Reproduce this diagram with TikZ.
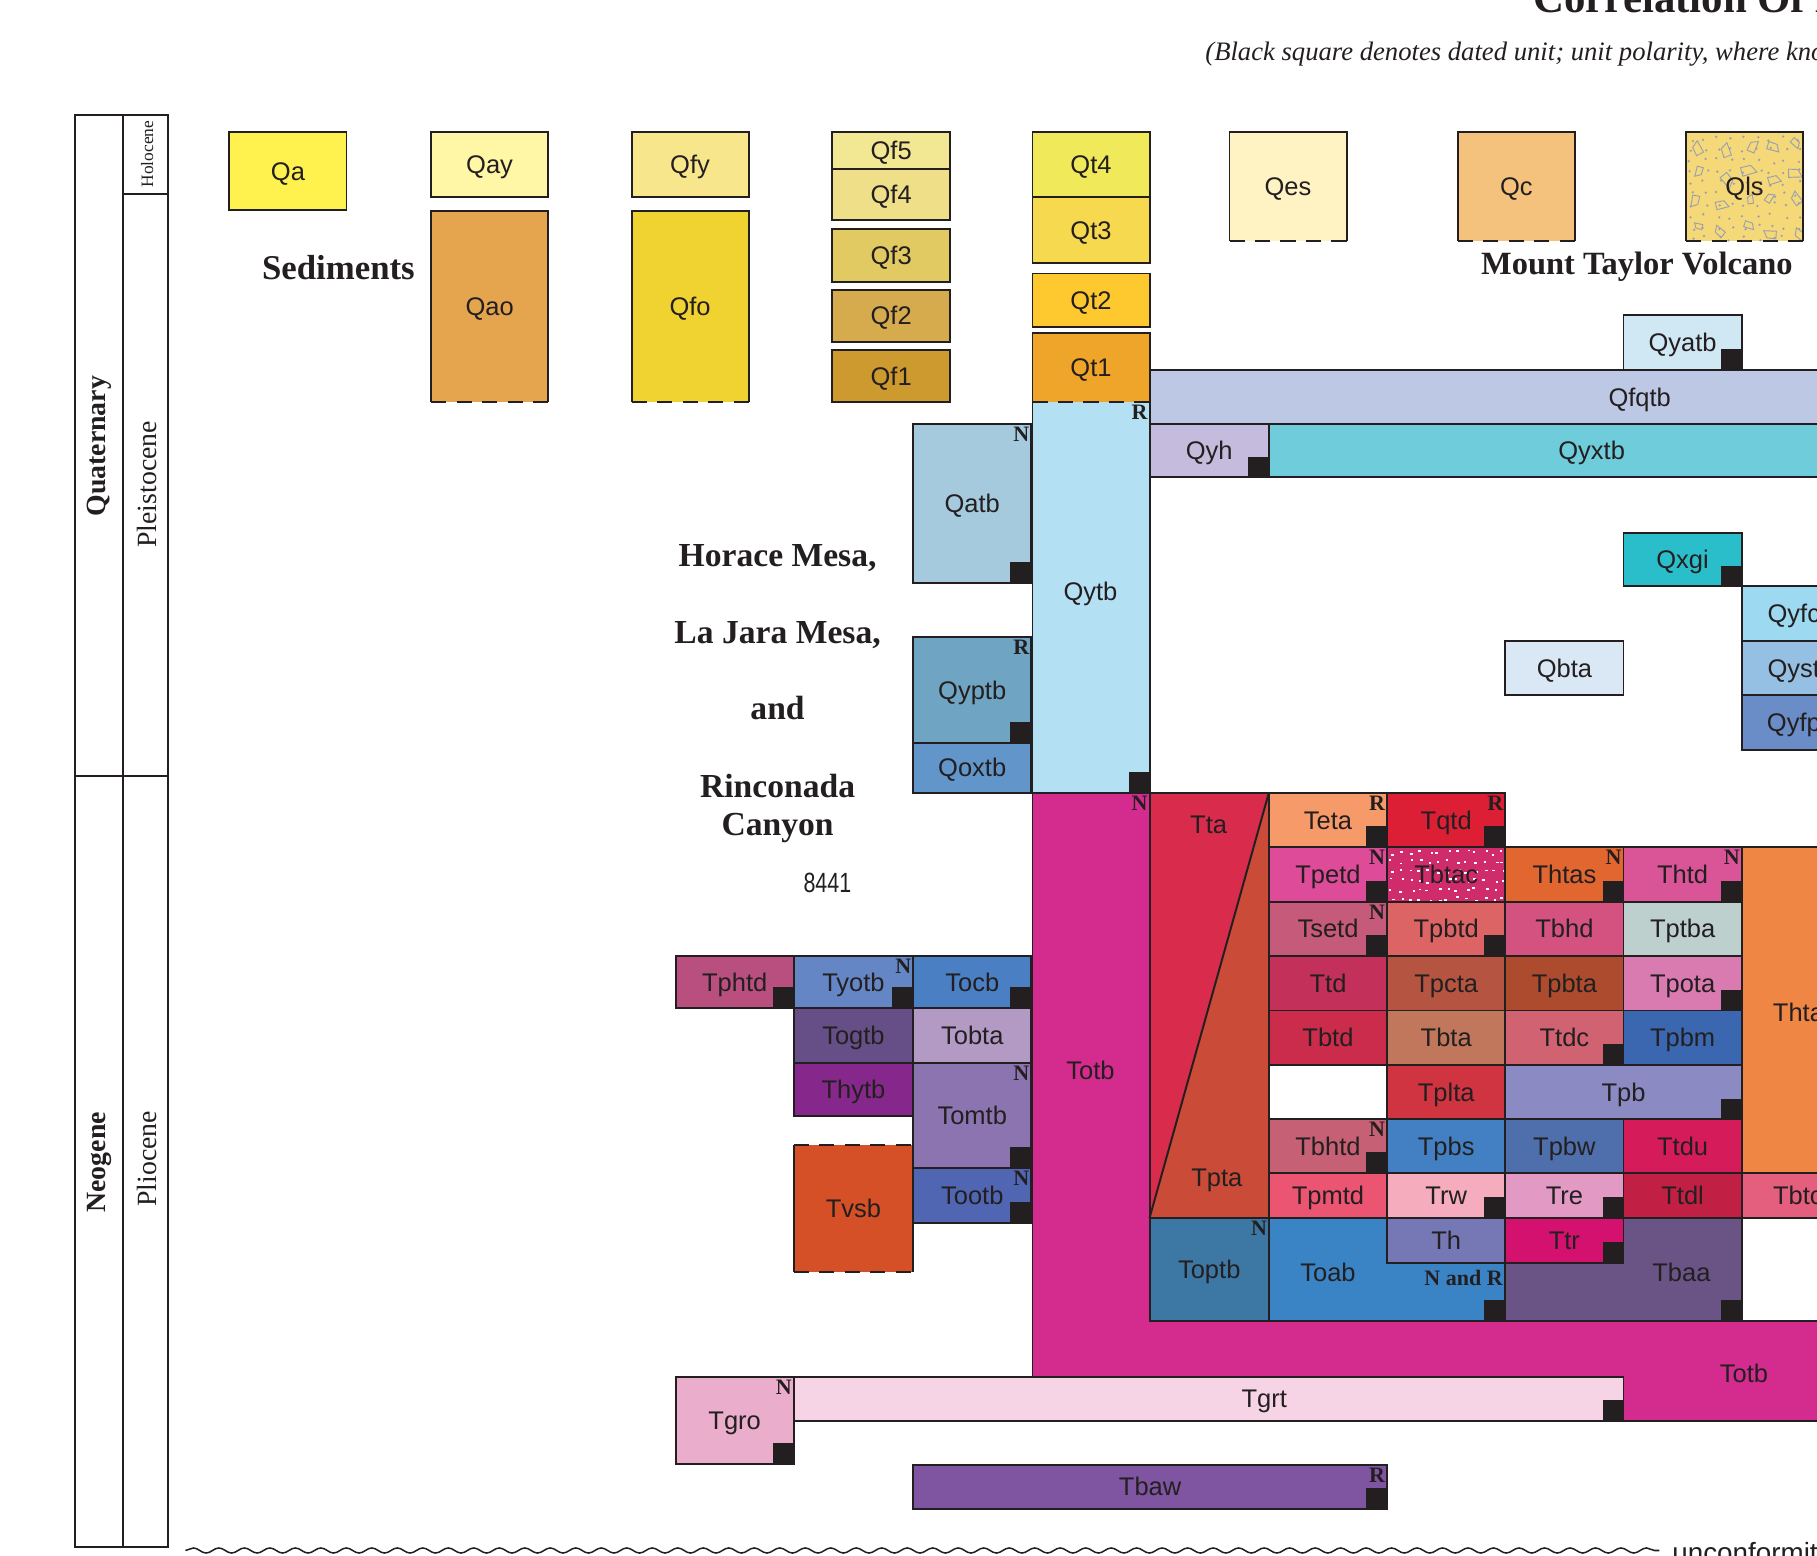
\documentclass[tikz,border=0pt]{standalone}
\usepackage{fontspec}
\setmainfont{Liberation Serif}
\setsansfont{Liberation Sans}
\usetikzlibrary{fit,decorations.pathmorphing}
\definecolor{bord}{HTML}{231F20}
\definecolor{patc}{HTML}{9AA0B0}
\newcommand\lblf{\sffamily\fontsize{22}{26}\selectfont}
\newcommand\polf{\rmfamily\bfseries\fontsize{19}{22}\selectfont}
\newcommand\hdf{\rmfamily\bfseries\fontsize{29}{33}\selectfont}
\newcommand\ttlf{\rmfamily\bfseries\fontsize{37}{42}\selectfont}
\newcommand\subf{\rmfamily\itshape\fontsize{23}{27}\selectfont}
\newcommand\erabf{\rmfamily\bfseries\fontsize{24}{28}\selectfont}
\newcommand\epof{\rmfamily\fontsize{24}{28}\selectfont}
\newcommand\holf{\rmfamily\fontsize{15}{18}\selectfont}
\newcommand\gu[8][]{\definecolor{tmpc}{HTML}{#7}\node[ubox,fill=tmpc,fit={(#3,#4)(#5,#6)},#1] (#2) {};\node[lbl] (#2-l) at (#2.center) {#8};}
\newcommand\dsq[1]{\fill[bord] (#1.south east) rectangle ++(-18,-18);}
\newcommand\pol[2]{\node[polsty,anchor=north east] (#1-p) at ([xshift=-1.5pt,yshift=-2.5pt]#1.north east) {#2};}
\newcommand\dashbot[1]{\draw[bline] (#1.south west) -- (#1.north west) -- (#1.north east) -- (#1.south east);\draw[bline,dline] (#1.south west) -- (#1.south east);}
\newcommand\dashtop[1]{\draw[bline] (#1.north west) -- (#1.south west) -- (#1.south east) -- (#1.north east);\draw[bline,dline] (#1.north west) -- (#1.north east);}
\begin{document}
\begin{tikzpicture}[x=1pt,y=-1pt,
 bline/.style={draw=bord, line width=1.7pt},
 dline/.style={dash pattern=on 13pt off 9pt},
 ubox/.style={draw=bord, line width=1.7pt, inner sep=0pt, outer sep=0pt},
 lbl/.style={font=\lblf, text=bord, inner sep=0pt, text height=15.8pt, text depth=0pt},
 polsty/.style={font=\polf, text=bord, inner sep=0pt},
 hd/.style={font=\hdf, text=bord, inner sep=0pt, anchor=base}]
\useasboundingbox (0,0) rectangle (1568,1342);
\fill[white] (0,0) rectangle (1568,1342);
\clip (0,0) rectangle (1568,1342);

% title
\node[anchor=base west, font=\ttlf, text=bord, inner sep=0pt] (title) at (1323,11) {Correlation Of Map Units};
\node[anchor=base west, font=\subf, text=bord, inner sep=0pt] (subtitle) at (1040,52) {(Black square denotes dated unit; unit polarity, where known};

% time scale
\draw[bline] (65,99) rectangle (145,1335);
\draw[bline] (106,99) -- (106,1335);
\draw[bline] (106,167) -- (145,167);
\draw[bline] (65,670) -- (145,670);
\node[rotate=90, font=\erabf, text=bord, inner sep=0pt] (quat) at (86,385) {Quaternary};
\node[rotate=90, font=\epof, text=bord, inner sep=0pt] (pleist) at (127,418) {Pleistocene};
\node[rotate=90, font=\holf, text=bord, inner sep=0pt] (holo) at (127,133) {Holocene};
\node[rotate=90, font=\erabf, text=bord, inner sep=0pt] (neog) at (86,1003) {Neogene};
\node[rotate=90, font=\epof, text=bord, inner sep=0pt] (plio) at (127,1000) {Pliocene};

% headings
\node[anchor=base west, font=\rmfamily\bfseries\fontsize{30}{34}\selectfont, text=bord, inner sep=0pt] (sed) at (226,241.5) {Sediments};
\node[anchor=base west, font=\rmfamily\bfseries\fontsize{28}{32}\selectfont, text=bord, inner sep=0pt] (mtv) at (1278,237) {Mount Taylor Volcano};
\node[hd] (h1) at (671,489) {Horace Mesa,};
\node[hd] (h2) at (671,555) {La Jara Mesa,};
\node[hd] (h3) at (671,621) {and};
\node[hd] (h4) at (671,688) {Rinconada};
\node[hd] (h5) at (671,721) {Canyon};
\node[anchor=base, font=\sffamily\fontsize{24}{28}\selectfont, text=bord, inner sep=0pt] (num) at (714,770) {\scalebox{0.77}[1]{8441}};

% sediments
\gu{Qa}{198}{114}{299}{181}{FFF14E}{Qa}
\gu{Qay}{372}{114}{473}{170}{FFF6A6}{Qay}
\gu[draw=none]{Qao}{372}{182}{473}{347}{E5A54E}{Qao}\dashbot{Qao}
\gu{Qfy}{545}{114}{646}{170}{F7E68C}{Qfy}
\gu[draw=none]{Qfo}{545}{182}{646}{347}{F0D230}{Qfo}\dashbot{Qfo}
\gu{Qf5}{718}{114}{820}{146}{F2E894}{Qf5}
\gu{Qf4}{718}{146}{820}{190}{EEDF88}{Qf4}
\gu{Qf3}{718}{198}{820}{243}{E2CA62}{Qf3}
\gu{Qf2}{718}{250}{820}{295}{D5AB4E}{Qf2}
\gu{Qf1}{718}{302}{820}{347}{CC9A2E}{Qf1}
\gu{Qt4}{891}{114}{992}{170}{F0E95A}{Qt4}
\gu{Qt3}{891}{170}{992}{227}{F6D94F}{Qt3}
\gu{Qt2}{891}{236}{992}{282}{FDC92F}{Qt2}
\gu[draw=none]{Qt1}{891}{287}{992}{347}{EFA52A}{Qt1}\dashbot{Qt1}
\gu[draw=none]{Qes}{1061}{114}{1162}{208}{FFF3C4}{Qes}\dashbot{Qes}
\gu[draw=none]{Qc}{1258}{114}{1359}{208}{F4C27C}{Qc}\dashbot{Qc}
\definecolor{cQls}{HTML}{F5D878}
\node[ubox,draw=none,fill=cQls,fit={(1455,114)(1556,208)}] (Qls) {};
\begin{scope}
 \clip (1455,114) rectangle (1556,208);
 \pgfmathsetseed{11}
 \foreach \i in {0,...,8}{\foreach \j in {0,...,9}{
   \pgfmathsetmacro\qx{1457+\i*11.5+rnd*6}
   \pgfmathsetmacro\qy{117+\j*9.6+rnd*5}
   \fill[patc] (\qx,\qy) circle (1.1);}}
 \foreach \i in {0,...,4}{\foreach \j in {0,...,3}{
   \pgfmathsetmacro\qx{1462+\i*21+rnd*9}
   \pgfmathsetmacro\qy{122+\j*24+rnd*10}
   \pgfmathsetmacro\qr{rnd*360}
   \pgfmathsetmacro\qs{3.5+rnd*3}
   \draw[patc, line width=0.8pt, rotate around={\qr:(\qx,\qy)}] (\qx-\qs,\qy-0.7*\qs) -- (\qx+\qs,\qy-0.4*\qs) -- (\qx+0.8*\qs,\qy+0.8*\qs) -- (\qx-0.6*\qs,\qy+0.5*\qs) -- cycle;}}
\end{scope}
\node[lbl] (Qls-l) at (Qls.center) {Qls};
\dashbot{Qls}

% Totb background
\definecolor{cTotb}{HTML}{D42B8E}
\path[bline, fill=cTotb] (891,684) -- (992,684) -- (992,1140) -- (1620,1140) -- (1620,1226) -- (1401,1226) -- (1401,1188) -- (891,1188) -- cycle;
\node[lbl] (Totb1) at (941,924) {Totb};
\node[lbl] (Totb2) at (1505,1185) {Totb};
\node[polsty, anchor=north east] (Totb-p) at (990.5,686.5) {N};

% Quaternary volcanics
\gu{Qyatb}{1401}{272}{1503}{319}{CFE8F4}{Qyatb}\dsq{Qyatb}
\gu{Qfqtb}{992}{319}{1838}{366}{BCC8E4}{Qfqtb}
\gu{Qyh}{992}{366}{1095}{412}{C5BCDD}{Qyh}\dsq{Qyh}
\gu{Qyxtb}{1095}{366}{1652}{412}{6FCCDA}{Qyxtb}
\definecolor{cQytb}{HTML}{B3E0F2}
\node[ubox,draw=none,fill=cQytb,fit={(891,347)(992,684)}] (Qytb) {};
\node[lbl] (Qytb-l) at (941,510) {Qytb};
\dashtop{Qytb}\pol{Qytb}{R}\dsq{Qytb}
\gu{Qatb}{788}{366}{890}{503}{A6CADD}{Qatb}\pol{Qatb}{N}\dsq{Qatb}
\gu{Qyptb}{788}{550}{890}{641}{6FA4C2}{Qyptb}\pol{Qyptb}{R}\dsq{Qyptb}
\gu{Qoxtb}{788}{641}{890}{684}{6296CA}{Qoxtb}
\gu{Qxgi}{1401}{460}{1503}{506}{2ABECB}{Qxgi}\dsq{Qxgi}
\gu{Qyfc}{1503}{506}{1593}{553}{9DD9F0}{Qyfc}
\gu{Qyst}{1503}{553}{1593}{600}{96C0E3}{Qyst}
\gu{Qyfp}{1503}{600}{1593}{647}{6A8CC7}{Qyfp}
\gu{Qbta}{1299}{553}{1401}{600}{DAE7F5}{Qbta}

% Tta / Tpta
\definecolor{cTta}{HTML}{D92C4D}
\definecolor{cTpta}{HTML}{C94B38}
\fill[cTta] (992,684) -- (1095,684) -- (992,1051) -- cycle;
\fill[cTpta] (1095,684) -- (1095,1051) -- (992,1051) -- cycle;
\draw[bline] (992,684) rectangle (1095,1051);
\draw[bline] (992,1051) -- (1095,684);
\node[lbl] (Tta) at (1043,711) {Tta};
\node[lbl] (Tpta) at (1050,1016) {Tpta};

% grid of Tertiary units
\gu{Teta}{1095}{684}{1197}{731}{F79A6A}{Teta}\pol{Teta}{R}\dsq{Teta}
\gu{Tqtd}{1197}{684}{1299}{731}{DD1F35}{Tqtd}\pol{Tqtd}{R}\dsq{Tqtd}
\gu{Tpetd}{1095}{731}{1197}{778}{DE4B98}{Tpetd}\pol{Tpetd}{N}\dsq{Tpetd}
\definecolor{cTbtac}{HTML}{D02C6C}
\node[ubox,draw=none,fill=cTbtac,fit={(1197,731)(1299,778)}] (Tbtac) {};
\begin{scope}
 \clip (1197,731) rectangle (1299,778);
 \pgfmathsetseed{5}
 \foreach \i in {0,...,12}{\foreach \j in {0,...,5}{
   \pgfmathsetmacro\qx{1198+\i*8+rnd*5}
   \pgfmathsetmacro\qy{733+\j*8+rnd*4}
   \fill[white] (\qx,\qy) rectangle ++(2.3,1.6);}}
\end{scope}
\node[lbl] (Tbtac-l) at (Tbtac.center) {Tbtac};
\draw[bline] (Tbtac.south west) rectangle (Tbtac.north east);
\gu{Thtas}{1299}{731}{1401}{778}{E1662F}{Thtas}\pol{Thtas}{N}\dsq{Thtas}
\gu{Thtd}{1401}{731}{1503}{778}{DA5598}{Thtd}\pol{Thtd}{N}\dsq{Thtd}
\definecolor{cThta}{HTML}{F08644}
\node[ubox,fill=cThta,fit={(1503,731)(1601,1012)}] (Thta) {};
\node[lbl] (Thta-l) at (1552,874) {Thta};
\gu{Tsetd}{1095}{778}{1197}{825}{C65A7B}{Tsetd}\pol{Tsetd}{N}\dsq{Tsetd}
\gu{Tpbtd}{1197}{778}{1299}{825}{DC6465}{Tpbtd}\dsq{Tpbtd}
\gu{Tbhd}{1299}{778}{1401}{825}{D3527F}{Tbhd}
\gu{Tptba}{1401}{778}{1503}{825}{BDD0CE}{Tptba}
\gu{Ttd}{1095}{825}{1197}{872}{C3305A}{Ttd}
\gu{Tpcta}{1197}{825}{1299}{872}{B55541}{Tpcta}
\gu{Tpbta}{1299}{825}{1401}{872}{AD4B2E}{Tpbta}
\gu{Tpota}{1401}{825}{1503}{872}{D97AB0}{Tpota}\dsq{Tpota}
\gu{Tbtd}{1095}{872}{1197}{919}{CB2C4B}{Tbtd}
\gu{Tbta}{1197}{872}{1299}{919}{C0775C}{Tbta}
\gu{Ttdc}{1299}{872}{1401}{919}{D06272}{Ttdc}\dsq{Ttdc}
\gu{Tpbm}{1401}{872}{1503}{919}{3B67B1}{Tpbm}
\gu{Tplta}{1197}{919}{1299}{966}{CF3440}{Tplta}
\gu{Tpb}{1299}{919}{1503}{966}{8B8AC3}{Tpb}\dsq{Tpb}
\gu{Tbhtd}{1095}{966}{1197}{1012}{C66074}{Tbhtd}\pol{Tbhtd}{N}\dsq{Tbhtd}
\gu{Tpbs}{1197}{966}{1299}{1012}{4280C3}{Tpbs}
\gu{Tpbw}{1299}{966}{1401}{1012}{4E6FAB}{Tpbw}
\gu{Ttdu}{1401}{966}{1503}{1012}{D61B5A}{Ttdu}
\gu{Tpmtd}{1095}{1012}{1197}{1051}{EC5572}{Tpmtd}
\gu{Trw}{1197}{1012}{1299}{1051}{F5ACBC}{Trw}\dsq{Trw}
\gu{Tre}{1299}{1012}{1401}{1051}{E29AC4}{Tre}\dsq{Tre}
\gu{Ttdl}{1401}{1012}{1503}{1051}{C21F44}{Ttdl}
\gu{Tbtc}{1503}{1012}{1600}{1051}{E45E7D}{Tbtc}
\gu{Toptb}{992}{1051}{1095}{1140}{3D78A5}{Toptb}\pol{Toptb}{N}

\definecolor{cToab}{HTML}{3A84C6}
\definecolor{cTbaa}{HTML}{6A5486}
\path[bline, fill=cToab] (1095,1051) -- (1197,1051) -- (1197,1090) -- (1299,1090) -- (1299,1140) -- (1095,1140) -- cycle;
\path[bline, fill=cTbaa] (1299,1090) -- (1401,1090) -- (1401,1051) -- (1503,1051) -- (1503,1140) -- (1299,1140) -- cycle;
\node[lbl] (Toab) at (1146,1098) {Toab};
\node[lbl] (Tbaa) at (1451,1098) {Tbaa};
\node[polsty, anchor=base east] (Toab-p) at (1297,1109) {N and R};
\fill[bord] (1299,1140) rectangle ++(-18,-18);
\fill[bord] (1503,1140) rectangle ++(-18,-18);
\gu{Th}{1197}{1051}{1299}{1090}{7678B5}{Th}
\gu{Ttr}{1299}{1051}{1401}{1090}{D4116F}{Ttr}\dsq{Ttr}

% left Tertiary group
\gu{Tphtd}{583}{825}{685}{870}{B84F7F}{Tphtd}\dsq{Tphtd}
\gu{Tyotb}{685}{825}{788}{870}{6586C5}{Tyotb}\pol{Tyotb}{N}\dsq{Tyotb}
\gu{Tocb}{788}{825}{890}{870}{4A7FC3}{Tocb}\dsq{Tocb}
\gu{Togtb}{685}{870}{788}{917}{664F86}{Togtb}
\gu{Tobta}{788}{870}{890}{917}{B39AC5}{Tobta}
\gu{Thytb}{685}{917}{788}{963}{86288B}{Thytb}
\gu{Tomtb}{788}{917}{890}{1008}{8C74B1}{Tomtb}\pol{Tomtb}{N}\dsq{Tomtb}
\gu{Tootb}{788}{1008}{890}{1055}{5066B3}{Tootb}\pol{Tootb}{N}\dsq{Tootb}
\gu[draw=none]{Tvsb}{685}{988}{788}{1098}{D54F27}{Tvsb}
\draw[bline] (Tvsb.north west) -- (Tvsb.south west);
\draw[bline] (Tvsb.north east) -- (Tvsb.south east);
\draw[bline,dline] (Tvsb.north west) -- (Tvsb.north east);
\draw[bline,dline] (Tvsb.south west) -- (Tvsb.south east);

% bottom units
\gu{Tgro}{583}{1188}{685}{1263}{EAADCB}{Tgro}\pol{Tgro}{N}\dsq{Tgro}
\definecolor{cTgrt}{HTML}{F7D4E5}
\node[ubox,fill=cTgrt,fit={(685,1188)(1401,1226)}] (Tgrt) {};
\node[lbl] (Tgrt-l) at (1091,1207) {Tgrt};
\dsq{Tgrt}
\gu{Tbaw}{788}{1264}{1197}{1302}{7F54A1}{Tbaw}\pol{Tbaw}{R}\dsq{Tbaw}

% unconformity
\coordinate (uncL) at (160,1338);
\coordinate (uncR) at (1432,1338);
\draw[bord, line width=1.3pt, decorate, decoration={snake, segment length=22pt, amplitude=2.2pt}] (uncL) -- (uncR);
\node[anchor=base west, font=\sffamily\fontsize{24}{28}\selectfont, text=bord, inner sep=0pt] (unc) at (1443,1348) {unconformity};
\end{tikzpicture}
\end{document}
